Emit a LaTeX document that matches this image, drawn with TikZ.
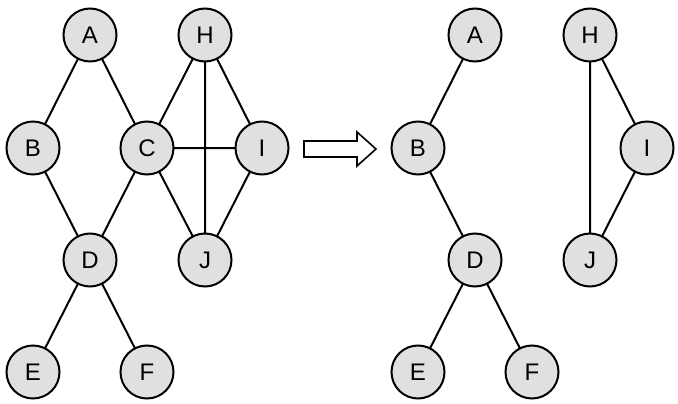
\documentclass[tikz,border=0pt]{standalone}
\usepackage{fontspec}
\setmainfont{Liberation Sans}
\begin{document}
\begin{tikzpicture}[x=1pt,y=-1pt,
  vx/.style={circle,draw=black,line width=2pt,fill={rgb,255:red,224;green,224;blue,224},minimum size=53pt,inner sep=0pt,font=\fontsize{24}{24}\selectfont},
  ed/.style={line width=2pt}]
\useasboundingbox (0,0) rectangle (678,404);
\foreach \n/\x/\y in {A/90/35,H/205/35,B/33/148,C/147/148,I/262/148,D/90/260,J/205/260,E/33/372,F/147/372}
  \coordinate (p\n) at (\x,\y);
\foreach \n/\x/\y in {A/475/35,H/590/35,B/418/148,I/647/148,D/475/260,J/590/260,E/418/372,F/532/372}
  \coordinate (q\n) at (\x,\y);
\draw[ed] (pA)--(pB) (pA)--(pC) (pB)--(pD) (pC)--(pD) (pC)--(pH) (pC)--(pI) (pC)--(pJ) (pH)--(pI) (pH)--(pJ) (pI)--(pJ) (pD)--(pE) (pD)--(pF);
\draw[ed] (qA)--(qB) (qB)--(qD) (qD)--(qE) (qD)--(qF) (qH)--(qI) (qH)--(qJ) (qI)--(qJ);
\foreach \n in {A,H,B,C,I,D,J,E,F} \node[vx] (l\n) at (p\n) {\n};
\foreach \n in {A,H,B,I,D,J,E,F} \node[vx] (r\n) at (q\n) {\n};
\draw[line width=1.6pt,fill=white] (304,141)--(357,141)--(357,132)--(376,149)--(357,166)--(357,157)--(304,157)--cycle;
\end{tikzpicture}
\end{document}
